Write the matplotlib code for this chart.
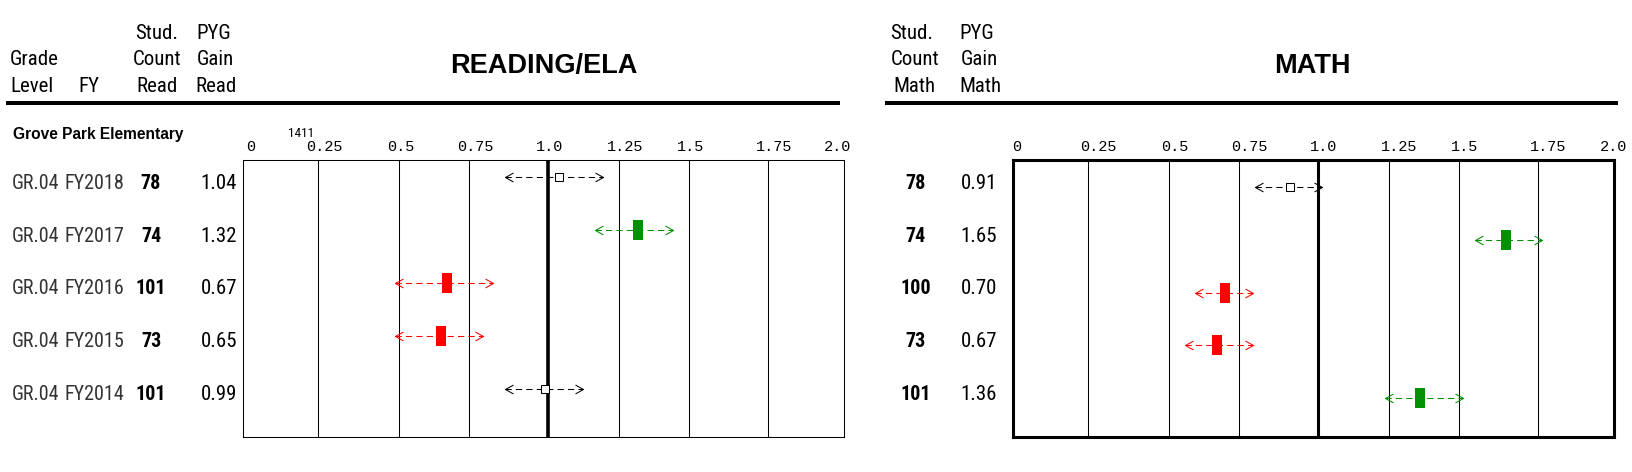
import numpy as np
import matplotlib
matplotlib.use("Agg")
import matplotlib.pyplot as plt
import matplotlib.font_manager as fm
from matplotlib.font_manager import FontProperties
from matplotlib.path import Path
from matplotlib.lines import Line2D
from matplotlib.transforms import ScaledTranslation, blended_transform_factory

# ---------------- data ----------------
SCHOOL = "Grove Park Elementary"
NOTE = "1411"
GRADE = ["GR.04", "GR.04", "GR.04", "GR.04", "GR.04"]
FY = ["FY2018", "FY2017", "FY2016", "FY2015", "FY2014"]

READ_COUNT = [78, 74, 101, 73, 101]
READ_GAIN = [1.04, 1.32, 0.67, 0.65, 0.99]
READ_LO = [0.864, 1.167, 0.488, 0.488, 0.864]
READ_HI = [1.195, 1.442, 0.826, 0.794, 1.124]

MATH_COUNT = [78, 74, 100, 73, 101]
MATH_GAIN = [0.91, 1.65, 0.70, 0.67, 1.36]
MATH_LO = [0.801, 1.551, 0.593, 0.557, 1.238]
MATH_HI = [1.013, 1.764, 0.795, 0.795, 1.514]

TICKS = [0, 0.25, 0.5, 0.75, 1.0, 1.25, 1.5, 1.75, 2.0]
TICK_LABELS = ["0", "0.25", "0.5", "0.75", "1.0", "1.25", "1.5", "1.75", "2.0"]
# the report's axis is slightly irregular: pixel offset of each tick inside the 601px box
AXIS_WARP = [0, 75, 156, 226, 305, 375.5, 446, 525, 601]


# ---------------- fonts ----------------
def _w(f):
    w = f.weight
    if isinstance(w, str):
        w = fm.weight_dict.get(w, 400)
    return int(w)


def pick_narrow():
    prefs = [
        ("Liberation Sans Narrow", None, 1.0),
        ("Arial Narrow", None, 1.0),
        ("Roboto Condensed", None, 1.0),
        ("Roboto", "condensed", 1.0),
        ("Noto Sans", "condensed", 1.0),
        ("Noto Sans Condensed", None, 1.0),
        ("Open Sans Condensed", None, 0.95),
        ("Open Sans", "condensed", 0.95),
        ("Noto Sans", "semi-condensed", 0.93),
        ("Noto Sans SemiCondensed", None, 0.93),
        ("DejaVu Sans", "condensed", 0.88),
        ("DejaVu Sans Condensed", None, 0.88),
    ]
    for name, stretch, sc in prefs:
        reg, bold = None, None
        for f in fm.fontManager.ttflist:
            if f.name != name or f.style != "normal":
                continue
            if stretch is not None and f.stretch != stretch:
                continue
            if stretch is None and name in ("Roboto", "Noto Sans", "Open Sans", "DejaVu Sans"):
                continue
            w = _w(f)
            d = abs(w - 400)
            if d <= 100 and (reg is None or d < reg[0]):
                reg = (d, f.fname)
            db = abs(w - 700)
            if db <= 100 and (bold is None or db < bold[0]):
                bold = (db, f.fname)
        if reg is not None:
            return reg[1], (bold[1] if bold else None), sc
    return None, None, None


NARROW_FILE, NARROW_BOLD, NS = pick_narrow()
HAVE_NARROW = NARROW_FILE is not None
if not HAVE_NARROW:
    NS = 0.88
SANS = "Liberation Sans"
MONO = "Liberation Mono"


def nfont(size):
    if HAVE_NARROW:
        return FontProperties(fname=NARROW_FILE, size=size * NS)
    return FontProperties(family=SANS, size=size * NS)


def nbold(size):
    if HAVE_NARROW and NARROW_BOLD:
        return FontProperties(fname=NARROW_BOLD, size=size * NS)
    return FontProperties(family=SANS, weight="bold", size=13.5)


W, H = 1632, 472
fig = plt.figure(figsize=(W / 100, H / 100), dpi=100)


def fx(x):
    return x / W


def fy(y):
    return 1 - y / H


def ftext(x, y, s, **kw):
    kw.setdefault("va", "baseline")
    fig.text(fx(x), fy(y), s, **kw)


# ---------------- headers ----------------
ftext(10, 65, "Grade", ha="left", fontproperties=nfont(15))
ftext(10, 91.5, "Level", ha="left", fontproperties=nfont(15))
ftext(78, 91.5, "FY", ha="left", fontproperties=nfont(15))
for txt, x, y in [("Stud.", 157, 39), ("Count", 157, 65), ("Read", 157, 91.5),
                  ("PYG", 214, 39), ("Gain", 215, 65), ("Read", 216, 91.5),
                  ("Stud.", 912, 39), ("Count", 915, 65), ("Math", 914, 91.5),
                  ("PYG", 977, 39), ("Gain", 979, 65), ("Math", 980, 91.5)]:
    ftext(x, y, txt, ha="center", fontproperties=nfont(15))

ftext(543.5, 73, "READING/ELA", ha="center", family=SANS, fontsize=19.5, fontweight="bold")
ftext(1312, 73, "MATH", ha="center", family=SANS, fontsize=19.5, fontweight="bold")

fig.add_artist(Line2D([fx(8), fx(838)], [fy(103), fy(103)], lw=2.9, color="black",
                      transform=fig.transFigure))
fig.add_artist(Line2D([fx(887), fx(1616)], [fy(103), fy(103)], lw=2.9, color="black",
                      transform=fig.transFigure))

ftext(13, 139.5, SCHOOL, ha="left", family=SANS, fontsize=11.2, fontweight="bold")
ftext(301, 137, NOTE, ha="center", fontproperties=nfont(9.5))


# ---------------- axes ----------------
def fwd(x):
    return np.interp(x, TICKS, AXIS_WARP)


def inv(p):
    return np.interp(p, AXIS_WARP, TICKS)


LEFT_CHEV = Path([(1.8, 1), (0, 0), (1.8, -1)], [Path.MOVETO, Path.LINETO, Path.LINETO])
RIGHT_CHEV = Path([(-1.8, 1), (0, 0), (-1.8, -1)], [Path.MOVETO, Path.LINETO, Path.LINETO])
RECT = Path([(-0.5, -1), (0.5, -1), (0.5, 1), (-0.5, 1), (-0.5, -1)], closed=True)
RED, GREEN = "#ff0000", "#009000"


def panel(x0, spine_lw, one_lw, ylim, gain, lo, hi, lab_dx, first_dx, last_dx):
    ax = fig.add_axes([fx(x0), fy(437), 601 / W, 277 / H])
    ax.set_xscale("function", functions=(fwd, inv))
    ax.set_xlim(0, 2)
    ax.set_ylim(*ylim)
    ax.set_xticks([])
    ax.set_yticks([])
    ax.minorticks_off()
    for s in ax.spines.values():
        s.set_linewidth(spine_lw)
        s.set_color("black")
    for t in TICKS[1:-1]:
        ax.axvline(t, color="black", lw=one_lw if t == 1.0 else 0.75, zorder=1)
    # tick labels on top
    tr = blended_transform_factory(ax.transData, ax.transAxes)
    n = len(TICKS)
    for i, (t, lab) in enumerate(zip(TICKS, TICK_LABELS)):
        dx = first_dx if i == 0 else (last_dx if i == n - 1 else lab_dx)
        off = ScaledTranslation(dx / 100, 9 / 100, fig.dpi_scale_trans)
        ax.text(t, 1, lab, transform=tr + off, ha="left", va="baseline",
                family=MONO, fontsize=11, color="black", clip_on=False)
    # intervals
    for i, (g, a, b) in enumerate(zip(gain, lo, hi)):
        if a > 1:
            c = GREEN
        elif b < 1:
            c = RED
        else:
            c = "black"
        ax.plot([a, b], [i, i], color=c, lw=0.75, dashes=(6, 4), zorder=3)
        ax.plot([a], [i], marker=LEFT_CHEV, ms=11.5, mfc="none", mec=c, mew=0.75, zorder=4)
        ax.plot([b], [i], marker=RIGHT_CHEV, ms=11.5, mfc="none", mec=c, mew=0.75, zorder=4)
        if c == "black":
            ax.plot([g], [i], marker="s", ms=6.3, mfc="white", mec="black", mew=0.75, zorder=5)
        else:
            ax.plot([g], [i], marker=RECT, ms=14.4, mfc=c, mec=c, mew=0, zorder=5)
    return ax


ax_r = panel(243, 0.75, 2.6, (4.906, -0.321), READ_GAIN, READ_LO, READ_HI, -12, 3, -20)
ax_m = panel(1013, 2.2, 2.2, (4.739, -0.512), MATH_GAIN, MATH_LO, MATH_HI, -8, -1, -14)

# ---------------- row texts ----------------
rtr = blended_transform_factory(fig.transFigure, ax_r.transData)
roff = ScaledTranslation(0, -11.5 / 100, fig.dpi_scale_trans)
ROW = dict(transform=rtr + roff, va="baseline")
for i in range(len(FY)):
    if HAVE_NARROW:
        fig.text(fx(12), i, GRADE[i], ha="left", fontproperties=nfont(14.5),
                 color="#333333", **ROW)
        fig.text(fx(65), i, FY[i], ha="left", fontproperties=nfont(14.5),
                 color="#333333", **ROW)
    else:
        fig.text(fx(11), i, f"{GRADE[i]} {FY[i]}", ha="left",
                 fontproperties=FontProperties(family=SANS, size=12.5),
                 color="#333333", **ROW)
    fig.text(fx(151), i, str(READ_COUNT[i]), ha="center", fontproperties=nbold(14.5), **ROW)
    fig.text(fx(237), i, f"{READ_GAIN[i]:.2f}", ha="right", fontproperties=nfont(15),
             color="black", **ROW)
    fig.text(fx(916), i, str(MATH_COUNT[i]), ha="center", fontproperties=nbold(14.5), **ROW)
    fig.text(fx(997), i, f"{MATH_GAIN[i]:.2f}", ha="right", fontproperties=nfont(15),
             color="black", **ROW)

fig.savefig("out.png", dpi=100)
